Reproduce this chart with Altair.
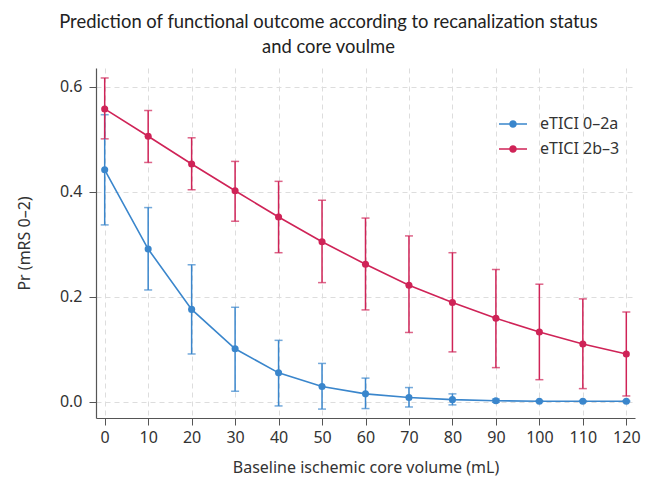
import altair as alt
import pandas as pd

volumes = [0, 10, 20, 30, 40, 50, 60, 70, 80, 90, 100, 110, 120]
groups = ["eTICI 0–2a", "eTICI 2b–3"]

blue_y = [0.442, 0.291, 0.176, 0.101, 0.055, 0.029, 0.015, 0.008, 0.004, 0.002, 0.001, 0.001, 0.001]
blue_lo = [0.337, 0.213, 0.091, 0.020, -0.008, -0.014, -0.013, -0.010, -0.006, -0.001, 0.000, 0.000, 0.000]
blue_hi = [0.547, 0.370, 0.261, 0.180, 0.117, 0.073, 0.045, 0.027, 0.015, 0.005, 0.002, 0.002, 0.002]

red_y = [0.558, 0.506, 0.453, 0.402, 0.352, 0.305, 0.262, 0.222, 0.189, 0.159, 0.133, 0.110, 0.091]
red_lo = [0.501, 0.456, 0.404, 0.344, 0.284, 0.227, 0.175, 0.132, 0.095, 0.065, 0.042, 0.025, 0.011]
red_hi = [0.617, 0.555, 0.503, 0.458, 0.420, 0.384, 0.350, 0.316, 0.284, 0.252, 0.224, 0.196, 0.171]

colors = ["#3a86cc", "#cf2357"]

rows = []
for g, ys, los, his in [(groups[0], blue_y, blue_lo, blue_hi), (groups[1], red_y, red_lo, red_hi)]:
    for v, y, lo, hi in zip(volumes, ys, los, his):
        rows.append({"vol": v, "group": g, "pr": y, "lo": lo, "hi": hi})
df = pd.DataFrame(rows)

FONT = "Noto Sans"
YDOM = [-0.031, 0.636]

x_enc = alt.X("vol:Q", scale=alt.Scale(domain=[-2, 122], nice=False, zero=False),
              axis=alt.Axis(values=volumes, title="Baseline ischemic core volume (mL)",
                            format="d"))
y_enc = alt.Y("pr:Q", scale=alt.Scale(domain=YDOM, nice=False, zero=False),
              axis=alt.Axis(values=[0, 0.2, 0.4, 0.6], format=".1f", title="Pr (mRS 0–2)"))

legend = alt.Legend(
    orient="none", legendX=403, legendY=42, title=None,
    symbolType="M-1,-0.055L-0.25,-0.055L-0.25,0.055L-1,0.055Z M0.25,-0.055L1,-0.055L1,0.055L0.25,0.055Z M-0.27,0A0.27,0.27 0 1,1 0.27,0A0.27,0.27 0 1,1 -0.27,0Z",
    symbolSize=784, symbolStrokeWidth=0, symbolOpacity=1,
    labelFontSize=16, labelFont=FONT, labelColor="#333",
    rowPadding=3, labelOffset=13)
color_enc = alt.Color("group:N", scale=alt.Scale(domain=groups, range=colors), title=None, legend=legend)

base = alt.Chart(df)

err = base.mark_errorbar(ticks={"size": 8, "thickness": 1.5}, rule={"strokeWidth": 1.5}).encode(
    x=x_enc,
    y=alt.Y("lo:Q", scale=alt.Scale(domain=YDOM, nice=False, zero=False), title="Pr (mRS 0–2)"),
    y2="hi:Q",
    color=color_enc,
)

line = base.mark_line(strokeWidth=1.6).encode(x=x_enc, y=y_enc, color=color_enc)

pts = base.mark_point(filled=True, size=50, opacity=1).encode(x=x_enc, y=y_enc, color=color_enc)

chart = alt.layer(err, line, pts).properties(
    width=539, height=350,
    autosize=alt.AutoSizeParams(type="none"),
    padding={"left": 88, "top": 60, "right": 11, "bottom": 62},
    title=alt.TitleParams(
        text=["Prediction of functional outcome according to recanalization status", "and core voulme"],
        font="Lato", fontSize=18.4, fontWeight="normal", color="#222",
        anchor="middle", dx=-37, offset=12, lineHeight=25,
    ),
).configure_view(stroke=None).configure_axis(
    gridDash=[5, 4], gridColor="#dddddd", gridWidth=1,
    domainColor="#555555", domainWidth=1.2, tickColor="#555555", tickSize=7,
    labelFont=FONT, labelFontSize=16, labelColor="#333",
    titleFont=FONT, titleFontSize=16, titleFontWeight="normal", titleColor="#333",
    labelPadding=4,
).configure_axisX(titlePadding=14).configure_axisY(titlePadding=27, labelPadding=7)

chart.save("out.html", embed_options={"renderer": "svg", "actions": False})
